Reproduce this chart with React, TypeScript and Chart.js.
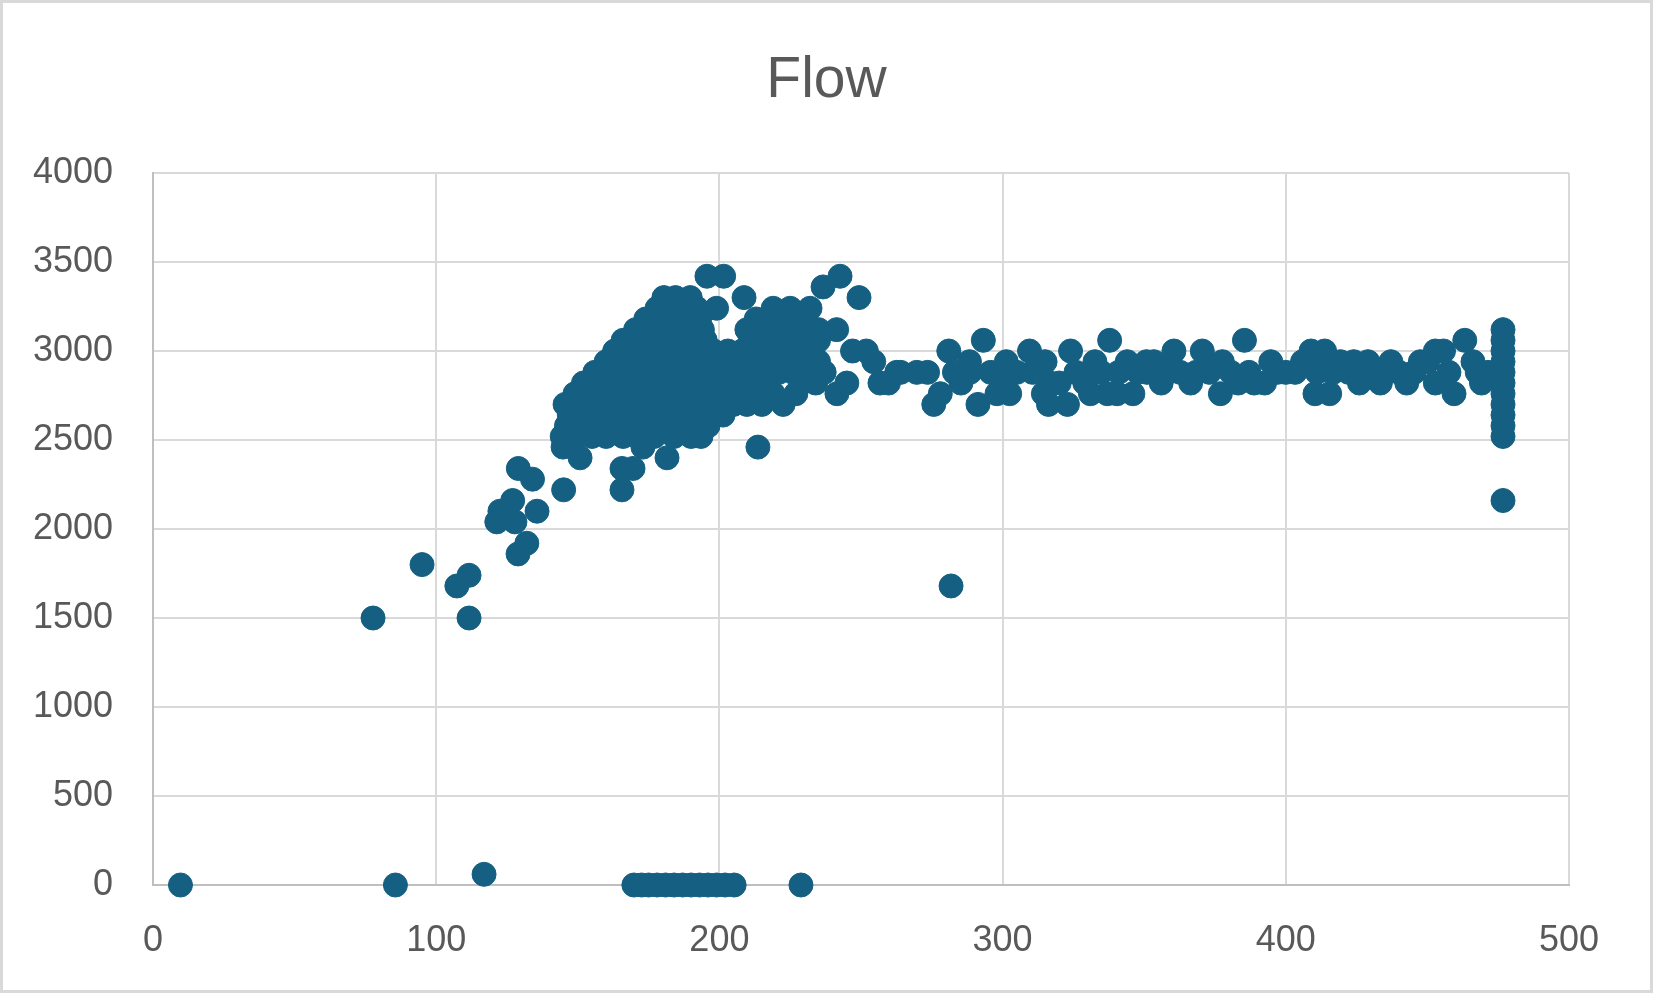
import React, { useEffect, useRef } from "react";
import { Chart, registerables } from "chart.js";

Chart.register(...registerables);

const chartTitle = "Flow";
const xTicks = [0, 100, 200, 300, 400, 500];
const yTicks = [0, 500, 1000, 1500, 2000, 2500, 3000, 3500, 4000];

// x positions of points, grouped by flow value (flow is read in steps of 60)
const flow0 = [9.7, 85.6, 169.8, 172.5, 175, 178, 181, 184, 187, 190, 193, 196, 199, 202, 205.2, 228.8];
const flow60 = [116.9];
const flow1500 = [77.7, 111.6];
const flow1680 = [107.3, 281.8];
const flow1740 = [111.6];
const flow1800 = [95];
const flow1860 = [128.9];
const flow1920 = [132];
const flow2040 = [121.4, 127.8];
const flow2100 = [122.5, 135.6];
const flow2160 = [127, 476.7];
const flow2220 = [145, 165.6];
const flow2280 = [134];
const flow2340 = [129, 165.6, 169.5];
const flow2400 = [150.8, 181.5];
const flow2460 = [144.8, 173, 213.6];
const flow2520 = [144.5, 150, 155, 160, 166, 171, 177, 184, 190, 193.5, 476.7];
const flow2580 = [146, 151, 156, 161, 166, 171, 176, 181, 186, 191, 196, 476.7];
const flow2640 = [147, 152, 157, 162, 167, 172, 177, 182, 187, 192, 197, 201.3, 476.7];
const flow2700 = [145.5, 150, 155, 160, 165, 170, 175, 180, 185, 190, 195, 200, 205, 209.7, 215, 222.5, 275.7, 291.3, 316.2, 322.9, 476.7];
const flow2760 = [149, 154, 159, 164, 169, 174, 179, 184, 189, 194, 199, 204, 209, 214, 219, 227, 241.5, 278, 298, 302.5, 314.4, 331, 337, 340.4, 346, 376.9, 410.3, 415.5, 459.4, 476.7];
const flow2820 = [152, 157, 162, 167, 172, 177, 182, 187, 192, 197, 202, 207, 212, 217, 229, 234, 245, 256.7, 259.7, 285.3, 299.5, 316.7, 320, 329, 356, 366.4, 383.2, 388.8, 392.5, 426, 433.4, 442.7, 452.8, 469.1, 476.7];
const flow2880 = [156, 161, 166, 171, 176, 181, 186, 191, 196, 201, 206, 211, 216, 221, 226, 231, 237, 262.6, 264, 269.7, 273.5, 283, 288.5, 295.8, 305, 310.6, 325.9, 334.8, 341, 347.8, 351, 358.3, 362.7, 368.3, 373, 380.6, 387, 397, 400, 403.3, 411, 416.7, 422.2, 431.5, 440, 445.3, 457.6, 467.6, 471.4, 476.7];
const flow2940 = [160, 165, 170, 175, 180, 185, 190, 195, 200, 205, 210, 215, 220, 225, 230, 235, 254.5, 288.3, 301.3, 315, 332.6, 344, 350.8, 353.4, 377.6, 394.7, 405.9, 419.3, 424, 429, 437.1, 447.5, 450.1, 466.1, 476.7];
const flow3000 = [163, 168, 173, 178, 183, 188, 193, 198, 203, 208, 213, 218, 223, 228, 233, 247, 251.9, 281, 309.5, 324, 360.5, 370.5, 408.9, 413.7, 452.8, 455.7, 476.7];
const flow3060 = [166, 171, 176, 181, 186, 191, 195, 211, 216, 221, 226, 231, 235, 293.2, 337.8, 385.4, 463.2, 476.7];
const flow3120 = [170.4, 175, 180, 185, 190, 194, 209.7, 215, 220, 225, 230, 235, 241.4, 476.7];
const flow3180 = [174, 179, 184, 189, 193, 213, 218, 223, 228];
const flow3240 = [178, 183, 188, 192, 199, 219, 225, 232];
const flow3300 = [180.4, 184.5, 189.7, 208.7, 249.3];
const flow3360 = [236.6];
const flow3420 = [195.6, 201.5, 242.6];

const flowLevels: [number, number[]][] = [
  [0, flow0], [60, flow60], [1500, flow1500], [1680, flow1680], [1740, flow1740],
  [1800, flow1800], [1860, flow1860], [1920, flow1920], [2040, flow2040], [2100, flow2100],
  [2160, flow2160], [2220, flow2220], [2280, flow2280], [2340, flow2340], [2400, flow2400],
  [2460, flow2460], [2520, flow2520], [2580, flow2580], [2640, flow2640], [2700, flow2700],
  [2760, flow2760], [2820, flow2820], [2880, flow2880], [2940, flow2940], [3000, flow3000],
  [3060, flow3060], [3120, flow3120], [3180, flow3180], [3240, flow3240], [3300, flow3300],
  [3360, flow3360], [3420, flow3420],
];

const W = 1653;
const H = 993;

export default function App() {
  const ref = useRef<HTMLCanvasElement | null>(null);

  useEffect(() => {
    if (!ref.current) return;
    const points: { x: number; y: number }[] = [];
    flowLevels.forEach(([y, xs]) => xs.forEach((x) => points.push({ x, y })));

    const frame = {
      id: "frame",
      beforeDraw(chart: any) {
        const c = chart.ctx;
        c.save();
        c.fillStyle = "#ffffff";
        c.fillRect(0, 0, W, H);
        c.restore();
      },
      afterDraw(chart: any) {
        const c = chart.ctx;
        c.save();
        c.strokeStyle = "#D9D9D9";
        c.lineWidth = 3;
        c.strokeRect(1.5, 1.5, W - 3, H - 3);
        c.fillStyle = "#595959";
        c.font = '57px "Liberation Sans", Arial, sans-serif';
        c.textAlign = "center";
        c.textBaseline = "alphabetic";
        c.fillText(chartTitle, W / 2, 97);
        c.restore();
      },
    };

    const tickFont = { family: '"Liberation Sans", Arial, sans-serif', size: 36 };
    const plain = (v: any) => String(v);

    const chart = new Chart(ref.current, {
      type: "scatter",
      data: {
        datasets: [
          {
            data: points,
            backgroundColor: "#156082",
            borderColor: "#156082",
            borderWidth: 1,
            pointRadius: 12,
            pointHoverRadius: 12,
            clip: false as any,
          },
        ],
      },
      options: {
        animation: false,
        responsive: false,
        events: [],
        layout: { padding: { top: 173, right: 84, bottom: 0, left: 0 } },
        plugins: { legend: { display: false }, tooltip: { enabled: false }, title: { display: false } },
        scales: {
          x: {
            type: "linear",
            min: 0,
            max: 500,
            afterBuildTicks: (s: any) => { s.ticks = xTicks.map((v) => ({ value: v })); },
            afterFit: (s: any) => { s.height = 108; },
            ticks: { font: tickFont, color: "#595959", padding: 34, maxRotation: 0, callback: plain },
            grid: { color: "#D9D9D9", lineWidth: 2, drawTicks: false },
            border: { color: "#BFBFBF", width: 2 },
          },
          y: {
            type: "linear",
            min: 0,
            max: 4000,
            afterBuildTicks: (s: any) => { s.ticks = yTicks.map((v) => ({ value: v })); },
            afterFit: (s: any) => { s.width = 153; },
            ticks: { font: tickFont, color: "#595959", padding: 40, callback: plain },
            grid: { color: "#D9D9D9", lineWidth: 2, drawTicks: false },
            border: { color: "#BFBFBF", width: 2 },
          },
        },
      },
      plugins: [frame],
    });
    return () => chart.destroy();
  }, []);

  return (
    <div style={{ position: "fixed", left: 0, top: 0, width: W, height: H, background: "#fff" }}>
      <canvas ref={ref} width={W} height={H} style={{ display: "block", width: W, height: H }} />
    </div>
  );
}
